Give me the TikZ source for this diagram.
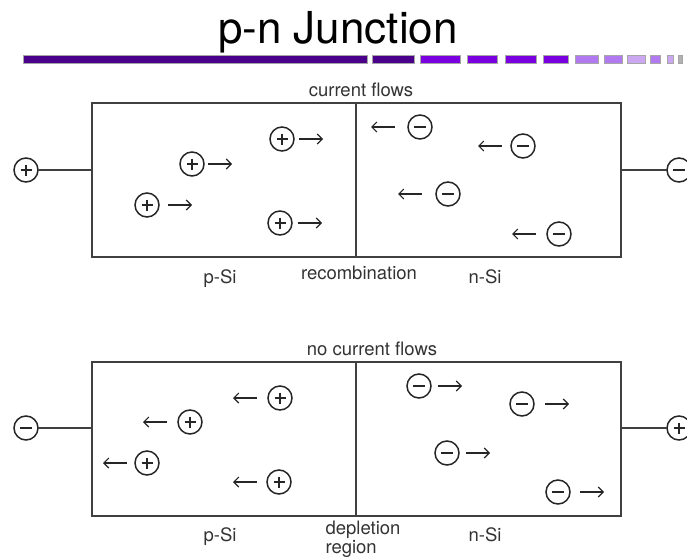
\documentclass[tikz,border=0pt]{standalone}
\usepackage{fontspec}
\setmainfont{TeX Gyre Heros}
\usetikzlibrary{arrows,arrows.meta}

\definecolor{deepviolet}{HTML}{4B008C}
\definecolor{violet}{HTML}{7A00E0}
\definecolor{lilac}{HTML}{B27AF0}
\definecolor{palelilac}{HTML}{CDA8F2}
\definecolor{wiregray}{HTML}{404040}

\tikzset{
  wire/.style={draw=wiregray, line width=1.5pt},
  cell/.style={wire, rectangle, minimum width=529pt, minimum height=154pt,
    inner sep=0pt, outer sep=0pt},
  charge/.style={circle, draw=black!85, line width=1.5pt, minimum size=24pt,
    inner sep=0pt, outer sep=0pt},
  hole/.style={charge, path picture={
      \draw[line width=2.5pt] (path picture bounding box.center) ++(-5.5,0) -- ++(11,0);
      \draw[line width=2.5pt] (path picture bounding box.center) ++(0,-5.5) -- ++(0,11);}},
  electron/.style={charge, path picture={
      \draw[line width=2.8pt] (path picture bounding box.center) ++(-6,0) -- ++(12,0);}},
  move/.style={-{Straight Barb[length=5pt, width=10pt]}, line width=1.1pt, black!85},
  tag/.style={font=\fontsize{18.5}{19}\selectfont, text=black!80, anchor=base},
  barseg/.style={draw=black!35, line width=0.6pt},
}

\begin{document}
\begin{tikzpicture}[x=1pt, y=-1pt]
\useasboundingbox (0,0) rectangle (687,559);

% heading with the fading bar
\node[font=\fontsize{44}{44}\selectfont, anchor=base] (title) at (338,44) {p-n Junction};
\foreach \a/\b/\c in {23/367/deepviolet, 372/414/deepviolet, 420/460/violet,
    467/497/violet, 505/536/violet, 543/568/violet, 575/598/lilac, 604/622/lilac,
    627/645/palelilac, 650/660/lilac, 667/673/palelilac, 678/682/black!30}
  \draw[barseg, fill=\c] (\a,55) rectangle (\b,63);

% forward bias
\node[cell] (fwd) at (356.5,180) {};
\draw[wire] ([xshift=-0.5pt]fwd.north) -- ([xshift=-0.5pt]fwd.south);
\node[tag] (fwdtop) at (361,96) {current flows};
\node[hole] (fwdA) at (26,170) {};
\node[electron] (fwdB) at (679,170) {};
\draw[wire] (fwdA) -- ([yshift=10pt]fwd.west);
\draw[wire] ([yshift=10pt]fwd.east) -- (fwdB);
\foreach \n/\x/\y/\g in {fh1/282/139/5, fh2/192/164/4, fh3/147/205/9, fh4/280/223/6}{
  \node[hole] (\n) at (\x,\y) {};
  \draw[move] ([xshift=\g pt]\n.east) -- ++(24,0);
}
\foreach \n/\x/\y/\g in {fe1/420/127/13, fe2/523/146/9, fe3/448/194/14, fe4/559/234/11}{
  \node[electron] (\n) at (\x,\y) {};
  \draw[move] ([xshift=-\g pt]\n.west) -- ++(-24,0);
}
\node[tag] (fwdp) at (220,283) {p-Si};
\node[tag] (fwdmid) at (359,279) {recombination};
\node[tag] (fwdn) at (485,283) {n-Si};

% reverse bias
\node[cell] (rev) at (356.5,439) {};
\draw[wire] ([xshift=-0.5pt]rev.north) -- ([xshift=-0.5pt]rev.south);
\node[tag] (revtop) at (372,355) {no current flows};
\node[electron] (revA) at (26,428) {};
\node[hole] (revB) at (679,428) {};
\draw[wire] (revA) -- ([yshift=11pt]rev.west);
\draw[wire] ([yshift=11pt]rev.east) -- (revB);
\foreach \n/\x/\y/\g in {rh1/280/398/11, rh2/190/422/11, rh3/147/463/8, rh4/279/482/10}{
  \node[hole] (\n) at (\x,\y) {};
  \draw[move] ([xshift=-\g pt]\n.west) -- ++(-24,0);
}
\foreach \n/\x/\y/\g in {re1/419/386/7, re2/522/404/11, re3/447/453/7, re4/558/492/10}{
  \node[electron] (\n) at (\x,\y) {};
  \draw[move] ([xshift=\g pt]\n.east) -- ++(24,0);
}
\node[tag] (revp) at (220,541) {p-Si};
\node[tag, anchor=base west, align=left] (revmid) at (322,553) {depletion\\region};
\node[tag] (revn) at (485,541) {n-Si};
\end{tikzpicture}
\end{document}
